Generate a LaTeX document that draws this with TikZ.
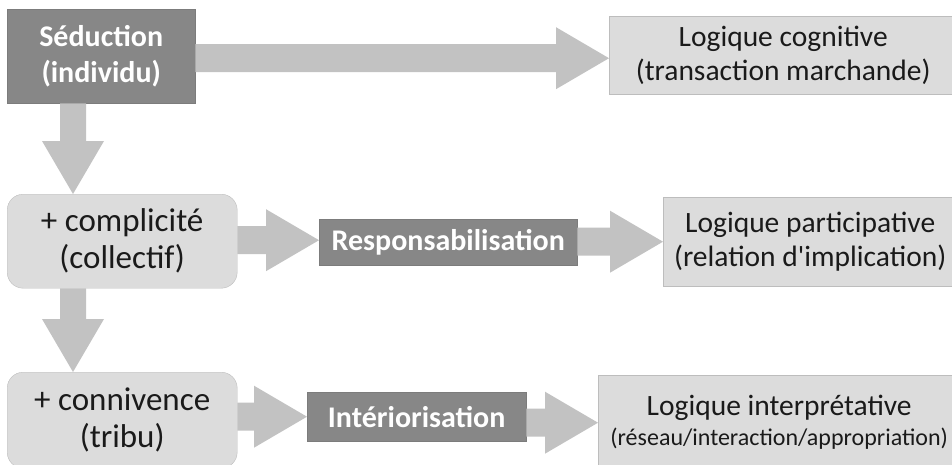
\documentclass[tikz,border=0pt]{standalone}
\usepackage{fontspec}
\setmainfont{Carlito}[Ligatures=TeXOff]
\usetikzlibrary{calc}
\definecolor{dboxc}{HTML}{878787}
\definecolor{dboxb}{HTML}{7C7C7C}
\definecolor{lboxc}{HTML}{DCDCDC}
\definecolor{lboxb}{HTML}{BDBDBD}
\definecolor{arrc}{HTML}{C2C2C2}
\definecolor{txtc}{HTML}{1A1A1A}
\newcommand\hblock[2]{\fill[arr] let \p1=(#1), \p2=(#2) in
  (\x1,\y2+14pt) -- (\x2-53pt,\y2+14pt) -- (\x2-53pt,\y2+31pt) -- (\x2,\y2)
  -- (\x2-53pt,\y2-31pt) -- (\x2-53pt,\y2-14pt) -- (\x1,\y2-14pt) -- cycle;}
\newcommand\vblock[2]{\fill[arr] let \p1=(#1), \p2=(#2) in
  (\x2-13pt,\y1) -- (\x2-13pt,\y2+53pt) -- (\x2-31pt,\y2+53pt) -- (\x2,\y2)
  -- (\x2+31pt,\y2+53pt) -- (\x2+13pt,\y2+53pt) -- (\x2+13pt,\y1) -- cycle;}
\begin{document}
\begin{tikzpicture}[x=1pt,y=-1pt,
  darkbox/.style={fill=dboxc, draw=dboxb, anchor=north west, inner sep=0pt,
    align=center, text=white, font=\fontsize{30}{36}\selectfont\bfseries},
  lightbox/.style={fill=lboxc, draw=lboxb, anchor=north west, inner sep=0pt,
    align=center, text=txtc, font=\fontsize{29.5}{34}\selectfont},
  roundbox/.style={lightbox, rounded corners=16pt, font=\fontsize{33}{37}\selectfont},
  arr/.style={fill=arrc}]
\useasboundingbox (0,0) rectangle (952,464);
% nodes
\node[darkbox, minimum width=188pt, minimum height=94pt] (sed) at (7,9) {Séduction\\(individu)};
\node[lightbox, minimum width=348pt, minimum height=78pt] (lc) at (609,16) {Logique cognitive\\(transaction marchande)};
\node[roundbox, minimum width=230pt, minimum height=94pt] (comp) at (7,194) {+ complicité\\(collectif)};
\node[darkbox, minimum width=258pt, minimum height=46pt] (resp) at (319,219) {Responsabilisation};
\node[lightbox, minimum width=294pt, minimum height=89pt] (part) at (663,197) {Logique participative\\(relation d'implication)};
\node[roundbox, minimum width=230pt, minimum height=96pt] (conn) at (7,372) {+ connivence\\(tribu)};
\node[darkbox, minimum width=219pt, minimum height=49pt] (inte) at (307,392) {Intériorisation};
\node[lightbox, minimum width=362pt, minimum height=95pt] (interp) at (598,375) {Logique interprétative\\[-4pt]{\fontsize{24}{28}\selectfont(réseau/interaction/appropriation)}};
% arrows
\hblock{sed.east}{[yshift=-3pt]lc.west}
\vblock{sed.south}{[xshift=66pt]comp.north west}
\hblock{comp.east}{[yshift=2pt]resp.west}
\hblock{resp.east}{part.west}
\vblock{comp.south}{[xshift=66pt]conn.north west}
\hblock{conn.east}{inte.west}
\hblock{inte.east}{interp.west}
\end{tikzpicture}
\end{document}
